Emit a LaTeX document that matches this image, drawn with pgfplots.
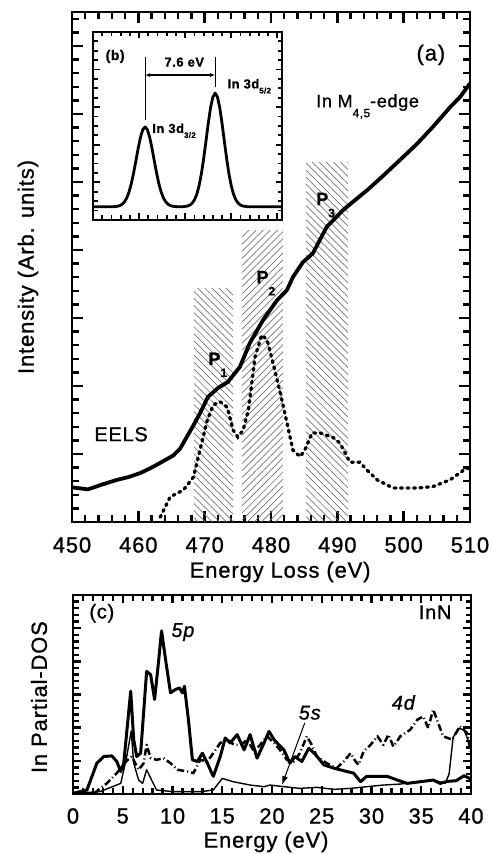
\documentclass[border=0pt]{standalone}
\usepackage{pgfplots}
\pgfplotsset{compat=1.18}
\usetikzlibrary{patterns.meta,arrows.meta}
\usepackage{fontspec}
\setmainfont{Liberation Sans}[LetterSpace=4, FakeBold=1]
\newcommand\fs[1]{\fontsize{#1}{#1}\selectfont}

\pgfplotstableread{
x y
450 0.51
452.4 0.48
454.5 0.55
456.8 0.62
458.5 0.66
460.3 0.72
462 0.80
463.3 0.87
465.3 0.98
466.3 1.08
467.3 1.25
468.3 1.42
469.3 1.60
470.5 1.84
472.0 1.97
473.5 2.06
475.3 2.28
476.8 2.63
478.8 2.97
480.9 3.26
482.4 3.41
483.3 3.60
484.8 3.82
486.3 3.95
488.4 4.34
490.9 4.59
492.5 4.72
494.5 4.88
497 5.10
499.4 5.32
502 5.56
504.4 5.81
507 6.10
508.5 6.25
510 6.45
}\eels

\pgfplotstableread{
x y
463.3 0.07
464.8 0.37
466.8 0.47
468.3 0.66
469.3 1.06
470.4 1.50
471.3 1.72
472.3 1.77
473.4 1.69
474.3 1.35
475.0 1.25
475.8 1.35
476.6 1.65
477.6 2.43
478.6 2.75
479.4 2.68
480.3 2.34
481.4 1.90
482.4 1.46
483.3 1.06
484.4 0.96
485.1 1.06
486.2 1.31
487.4 1.31
489.4 1.24
490.4 1.16
491.9 0.88
493.4 0.88
494.5 0.76
496.0 0.62
498.4 0.50
502.0 0.50
504.4 0.52
507.0 0.62
509.0 0.76
510 0.80
}\sim

\pgfplotstableread{
x y
0 0.02
1.4 0.12
2.4 0.93
3.1 1.13
3.9 1.15
4.4 0.98
4.8 0.68
5.1 0.93
5.8 3.10
6.1 1.64
6.4 1.13
6.8 1.23
7.4 3.70
7.8 3.60
8.2 2.85
8.6 4.00
8.9 4.92
9.3 4.06
9.8 3.05
10.3 3.15
10.7 3.20
11.0 3.05
11.2 3.25
11.6 2.24
12.0 1.03
12.5 0.98
13.0 1.23
13.5 0.93
14.1 0.53
14.8 1.13
15.3 1.69
15.8 1.54
16.5 1.79
17.2 1.33
17.8 1.79
18.5 1.08
19.2 1.54
19.7 1.89
20.2 1.64
20.7 1.48
21.2 1.33
21.8 0.93
22.3 1.13
23.0 0.98
23.7 1.38
24.4 1.18
25.2 0.88
26.2 0.78
27.5 0.68
28.2 0.63
28.9 0.37
29.5 0.53
30.6 0.53
31.6 0.53
32.6 0.42
33.6 0.32
34.9 0.37
36.2 0.42
36.9 0.32
37.6 0.38
38.5 0.40
39.3 0.55
40 0.45
}\pfive

\pgfplotstableread{
x y
2.1 0.02
3.4 0.32
4.4 0.63
5.4 1.00
5.9 1.13
6.6 0.73
7.1 0.93
7.4 1.48
7.8 1.08
8.4 1.03
9.1 1.08
9.8 0.93
10.5 0.73
11.5 0.68
12.1 0.63
12.8 1.03
13.5 0.98
14.1 1.23
14.8 1.54
15.5 1.64
16.2 1.48
16.9 1.48
17.5 1.64
18.2 1.28
18.8 1.48
19.5 1.74
20.2 1.54
20.8 1.33
21.5 1.03
22.2 0.98
22.8 1.23
23.5 1.74
24.0 1.48
24.5 1.13
25.5 0.93
26.5 0.78
27.2 0.98
27.9 1.23
28.4 0.98
28.7 0.88
29.2 1.28
29.9 1.48
30.6 1.74
31.2 1.48
31.7 1.79
32.2 1.43
32.9 1.74
33.9 1.94
34.6 2.24
35.2 2.34
35.7 1.99
36.2 2.55
36.7 2.14
37.2 1.74
38.1 1.64
38.9 2.04
39.6 1.84
40 1.23
}\dfour

\pgfplotstableread{
x y
0 0.02
2.7 0.07
4.8 0.32
5.4 1.13
5.85 1.90
6.1 0.93
6.6 0.42
7.0 0.32
7.4 0.73
7.9 0.42
8.4 0.12
10.1 0.07
12.8 0.07
14.1 0.12
15.0 0.47
16.1 0.37
17.8 0.27
19.2 0.22
19.8 0.27
21.2 0.22
22.8 0.17
24.5 0.20
26.2 0.14
27.9 0.17
29.5 0.22
31.2 0.27
32.9 0.30
34.6 0.37
36.2 0.42
37.4 0.32
37.8 0.60
38.2 1.70
38.7 1.98
39.3 1.94
40 1.40
}\sfive

\pgfplotstableread{
x y
0 0.07
2.15 0.0705
2.65 0.0729
2.9 0.0765
3.15 0.0833
3.4 0.0957
3.65 0.116
3.9 0.148
4.15 0.192
4.4 0.249
4.65 0.314
4.9 0.381
5.15 0.440
5.4 0.4805
5.65 0.495
5.9 0.4805
6.15 0.440
6.4 0.381
6.65 0.314
6.9 0.249
7.15 0.192
7.4 0.148
7.65 0.116
7.9 0.0957
8.15 0.0833
8.4 0.0765
8.65 0.0729
9.15 0.0705
9.75 0.0707
10.25 0.0741
10.5 0.0792
10.75 0.089
11.0 0.1066
11.25 0.136
11.5 0.181
11.75 0.244
12.0 0.325
12.25 0.418
12.5 0.513
12.75 0.597
13.0 0.654
13.25 0.675
13.5 0.654
13.75 0.597
14.0 0.513
14.25 0.418
14.5 0.325
14.75 0.244
15.0 0.181
15.25 0.136
15.5 0.1066
15.75 0.089
16.0 0.0792
16.25 0.0741
16.75 0.0707
20.5 0.07
}\inset

\begin{document}
\begin{tikzpicture}
\path[use as bounding box] (0,0) rectangle (493bp,854bp);
\pgfplotsset{
  every axis/.append style={
    scale only axis,
    axis line style={line width=2.4bp},
    tick align=inside,
    tick style={line width=2.3bp, black},
    /pgf/number format/assume math mode=true,
    ticklabel style={font=\fs{22}},
    label style={font=\fs{22}},
  }
}
% ---------------- panel (a) ----------------
\begin{axis}[
  at={(72bp,332bp)}, anchor=south west,
  width=398bp, height=510bp,
  xmin=450, xmax=510, ymin=0, ymax=7.5,
  major tick length=7bp,
  xtick={450,452,...,510}, xticklabels={},
  ytick={0,0.2,...,7.4}, yticklabels={},
  extra x ticks={450,460,...,510},
  extra y ticks={0,1,...,7}, extra y tick labels={},
  extra tick style={major tick length=11bp, tick style={line width=2.4bp, black}},
  xticklabel style={anchor=center, yshift=-23bp},
  xlabel={Energy Loss (eV)},
  ylabel={Intensity (Arb. units)},
  xlabel style={at={(axis description cs:0.523,-0.098)}, anchor=center},
  ylabel style={at={(axis description cs:-0.1106,0.5)}, anchor=center},
]
\addplot[draw=none, pattern={Lines[angle=-45,distance=5bp,line width=0.7bp]}, pattern color=black!55]
  coordinates {(468.4,3.43) (474.3,3.43)} \closedcycle;
\addplot[draw=none, pattern={Lines[angle=45,distance=5bp,line width=0.7bp]}, pattern color=black!55]
  coordinates {(475.6,4.29) (481.8,4.29)} \closedcycle;
\addplot[draw=none, pattern={Lines[angle=-45,distance=5bp,line width=0.7bp]}, pattern color=black!55]
  coordinates {(485.3,5.28) (491.6,5.28)} \closedcycle;
\addplot[black, line width=3.8bp, line join=round] table[x=x,y=y] {\eels};
\addplot[black, line width=3.3bp, line cap=round, dash pattern=on 2bp off 4.5bp] table[x=x,y=y] {\sim};
\node[font=\fs{22}] at (axis cs:504.1,6.87) {(a)};
\node[font=\fs{18}, anchor=base west] at (axis cs:486.3,6.10)
  {In M\raisebox{-10bp}{\fs{12}4,5}-edge};
\node[font=\fs{20}] at (axis cs:457.4,1.29) {EELS};
\node[font=\bfseries\fs{18}, anchor=base west] at (axis cs:470.05,2.31) {P\raisebox{-12bp}{\fs{12}1}};
\node[font=\bfseries\fs{18}, anchor=base west] at (axis cs:477.3,3.51) {P\raisebox{-12bp}{\fs{12}2}};
\node[font=\bfseries\fs{18}, anchor=base west] at (axis cs:486.3,4.66) {P\raisebox{-12bp}{\fs{12}3}};
\end{axis}
% ---------------- inset (b) ----------------
\begin{axis}[
  at={(93bp,634bp)}, anchor=south west,
  width=189bp, height=188bp,
  axis line style={line width=2bp},
  tick style={line width=1.8bp, black},
  major tick length=4.5bp,
  xmin=0, xmax=20.5, ymin=0, ymax=1,
  xtick={0,1,...,20}, xticklabels={},
  ytick={0,0.05,...,1}, yticklabels={},
  extra x ticks={0,5,...,20}, extra x tick labels={},
  extra y ticks={0,0.2,...,1}, extra y tick labels={},
  extra tick style={major tick length=6.5bp},
  axis background/.style={fill=white},
]
\addplot[black, line width=2.8bp, line join=round] table[x=x,y=y] {\inset};
\draw[line width=1bp] (axis cs:5.65,0.53) -- (axis cs:5.65,0.867);
\draw[line width=1bp] (axis cs:13.25,0.707) -- (axis cs:13.25,0.867);
\draw[line width=1.3bp, {Latex[length=5bp,width=4bp]}-{Latex[length=5bp,width=4bp]}] (axis cs:5.65,0.771) -- (axis cs:13.25,0.771);
\node[font=\bfseries\fs{13}] at (axis cs:9.9,0.84) {7.6 eV};
\node[font=\bfseries\fs{14}] at (axis cs:2.4,0.87) {(b)};
\node[font=\bfseries\fs{13}, anchor=base west, inner sep=0pt] at (axis cs:14.57,0.70) {In 3d\raisebox{-5bp}{\fs{8}5/2}};
\node[font=\bfseries\fs{13}, anchor=base west, inner sep=0pt] at (axis cs:6.41,0.463) {In 3d\raisebox{-5bp}{\fs{8}3/2}};
\end{axis}
% ---------------- panel (c) ----------------
\begin{axis}[
  at={(73bp,60bp)}, anchor=south west,
  width=398bp, height=199bp,
  xmin=0, xmax=40, ymin=0, ymax=6,
  major tick length=5.5bp,
  xtick={0,1,...,40}, xticklabels={},
  ytick={0,0.2,...,5.8}, yticklabels={},
  extra x ticks={0,5,...,40},
  extra y ticks={0,1,...,6}, extra y tick labels={},
  extra tick style={major tick length=8bp, tick style={line width=2.4bp, black}},
  xticklabel style={anchor=center, yshift=-22bp},
  xlabel={Energy (eV)},
  ylabel={In Partial-DOS},
  xlabel style={at={(axis description cs:0.485,-0.241)}, anchor=center},
  ylabel style={at={(axis description cs:-0.0854,0.487)}, anchor=center},
]
\addplot[black, line width=1.4bp, line join=round] table[x=x,y=y] {\sfive};
\addplot[black, line width=2.5bp, line join=round, dash pattern=on 7bp off 3bp on 1bp off 3bp] table[x=x,y=y] {\dfour};
\addplot[black, line width=3bp, line join=round] table[x=x,y=y] {\pfive};
\node[font=\fs{20}] at (axis cs:2.9,5.45) {(c)};
\node[font=\fs{20}] at (axis cs:36.4,5.48) {InN};
\node[font=\itshape\fs{20}] at (axis cs:11.05,4.88) {5p};
\node[font=\itshape\fs{20}] at (axis cs:23.8,2.45) {5s};
\node[font=\itshape\fs{20}] at (axis cs:33.2,2.76) {4d};
\draw[line width=1bp, -{Latex[length=9bp,width=6bp]}] (axis cs:23.3,2.15) -- (axis cs:21.0,0.27);
\end{axis}
\end{tikzpicture}
\end{document}
